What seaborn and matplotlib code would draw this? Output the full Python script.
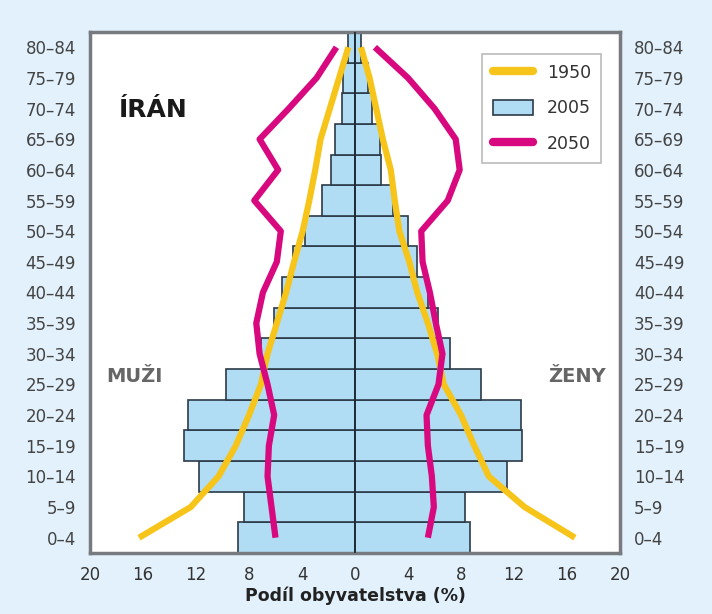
import numpy as np
import pandas as pd
import matplotlib.pyplot as plt
import seaborn as sns
from matplotlib.lines import Line2D
from matplotlib.patches import Patch

# age groups, bottom to top
ages = ["0–4", "5–9", "10–14", "15–19", "20–24", "25–29", "30–34", "35–39",
        "40–44", "45–49", "50–54", "55–59", "60–64", "65–69", "70–74",
        "75–79", "80–84"]

# 2005 (bars), % of population
male_2005 = [8.8, 8.4, 11.8, 12.9, 12.6, 9.7, 7.1, 6.1, 5.5, 4.7, 3.8, 2.5,
             1.8, 1.5, 0.95, 0.9, 0.5]
female_2005 = [8.7, 8.3, 11.5, 12.6, 12.5, 9.5, 7.2, 6.3, 5.5, 4.7, 4.0, 2.9,
               1.95, 1.85, 1.3, 1.0, 0.45]

# 1950 (yellow line)
male_1950 = [16.3, 12.4, 10.3, 9.0, 8.0, 7.1, 6.6, 5.9, 5.2, 4.6, 3.95, 3.45,
             3.0, 2.6, 1.9, 1.2, 0.5]
female_1950 = [16.6, 12.8, 10.1, 9.0, 8.0, 6.7, 6.2, 5.5, 4.7, 4.1, 3.35, 3.0,
               2.7, 2.1, 1.6, 1.1, 0.45]

# 2050 (magenta line)
male_2050 = [6.0, 6.3, 6.6, 6.5, 6.1, 6.6, 7.2, 7.45, 6.95, 5.9, 5.6, 7.6,
             5.8, 7.2, 5.0, 2.9, 1.4]
female_2050 = [5.5, 5.95, 5.8, 5.5, 5.4, 6.3, 6.6, 6.1, 5.65, 5.1, 5.0, 7.0,
               7.9, 7.6, 6.0, 4.0, 1.5]

xticks = [-20, -16, -12, -8, -4, 0, 4, 8, 12, 16, 20]

bg = "#e2f1fb"
bar_col = "#b0dcf4"
edge_col = "#2b3a48"
yellow = "#f7c51a"
magenta = "#d8087f"

sns.set_style("white")
plt.rcParams["font.family"] = ["DejaVu Sans"]

fig, ax = plt.subplots(figsize=(7.12, 6.14), dpi=100)
fig.patch.set_facecolor(bg)
fig.subplots_adjust(left=0.1264, right=0.8708, top=0.948, bottom=0.0993)

pos = np.arange(len(ages))
df = pd.DataFrame({"pos": pos, "male": -np.array(male_2005),
                   "female": female_2005})

for col in ["male", "female"]:
    sns.barplot(data=df, x=col, y="pos", orient="y", native_scale=True,
                width=1, color=bar_col, edgecolor=edge_col, linewidth=1.2,
                saturation=1, errorbar=None, ax=ax)

ax.axvline(0, color="#1c2833", lw=1.2, zorder=3)

lines = [(male_1950, -1, yellow), (female_1950, 1, yellow),
         (male_2050, -1, magenta), (female_2050, 1, magenta)]
for vals, sign, c in lines:
    sns.lineplot(x=sign * np.array(vals), y=pos, sort=False, estimator=None,
                 color=c, lw=4.5, ax=ax, solid_joinstyle="round",
                 solid_capstyle="butt", zorder=4)

ax.set_xlim(-20, 20)
ax.set_ylim(-0.5, len(ages) - 0.5)
ax.set_xticks(xticks)
ax.set_xticklabels([str(abs(t)) for t in xticks], fontsize=12, color="#333333")
ax.set_yticks(pos)
ax.set_yticklabels(ages, fontsize=12, color="#444444")
ax.tick_params(axis="y", length=0, pad=10, labelleft=True, labelright=True)
ax.tick_params(axis="x", length=3, color="#888888", pad=6)
ax.set_xlabel("Podíl obyvatelstva (%)", fontsize=12.5, fontweight="bold",
              color="#222222", labelpad=2)
ax.set_ylabel("")

for s in ax.spines.values():
    s.set_visible(True)
    s.set_color("#777b80")
    s.set_linewidth(2.5)

ax.text(-17.8, 13.95, "ÍRÁN", fontsize=18, fontweight="bold",
        color="#1a1a1a", ha="left", va="center")
ax.text(-18.8, 5.25, "MUŽI", fontsize=14, fontweight="bold",
        color="#666666", ha="left", va="center")
ax.text(18.9, 5.25, "ŽENY", fontsize=14, fontweight="bold",
        color="#666666", ha="right", va="center")

handles = [Line2D([], [], color=yellow, lw=6),
           Patch(facecolor=bar_col, edgecolor=edge_col, linewidth=1.2),
           Line2D([], [], color=magenta, lw=6)]
leg = ax.legend(handles, ["1950", "2005", "2050"], loc="upper right",
                bbox_to_anchor=(0.981, 0.975), fontsize=12.5,
                handlelength=2.3, handleheight=0.9, handletextpad=0.8,
                labelspacing=1.0, borderpad=0.6, fancybox=False,
                edgecolor="#bbbbbb", framealpha=1)
leg.get_frame().set_linewidth(1.2)
for t in leg.get_texts():
    t.set_color("#333333")

fig.savefig("out.png", dpi=100, facecolor=bg)
